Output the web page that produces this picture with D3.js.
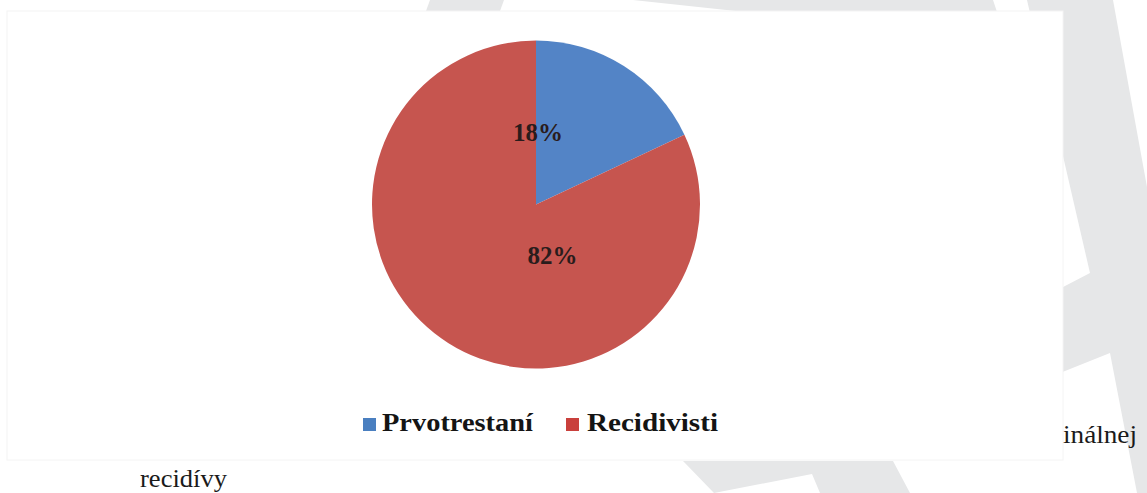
<!DOCTYPE html>
<html>
<head>
<meta charset="utf-8">
<script src="https://cdn.jsdelivr.net/npm/d3@7/dist/d3.min.js"></script>
<style>
  html, body { margin: 0; padding: 0; background: #ffffff; }
  svg { display: block; }
  text { font-family: "Liberation Serif", "Times New Roman", "DejaVu Serif", "Noto Serif", serif; }
</style>
</head>
<body>
<svg id="chart" width="1147" height="493"></svg>
<script>
// ---- data ----
const categories = ["Prvotrestaní", "Recidivisti"];
const values = [18, 82];
const valueLabels = ["18%", "82%"];
const captionWords = ["inálnej", "recidívy"];

// ---- layout / style ----
const W = 1147, H = 493;
const cx = 536, cy = 204.5, R = 164;
const sliceTop = ["#5384c6", "#c65450"];
const sliceBottom = ["#3d6cab", "#b12f2c"];
const swatch = ["#4a7fc0", "#c9403c"];
const labelOffsets = [[2, -69], [16.5, 54]];
const serif = '"Liberation Serif", "Times New Roman", "DejaVu Serif", serif';

const svg = d3.select("#chart");
const defs = svg.append("defs");

// background watermark shapes
const gray = "#e6e7e8";
const bgShapes = [
  [[430,0],[504,0],[500,11],[426,11]],
  [[633,0],[993,0],[997,12],[745,12]],
  [[1027,0],[1113,0],[1147,187],[1147,493],[1137,493],[1110,353],[1040,381],[1040,299],[1090,273]],
  [[683,461],[893,461],[910,493],[820,493],[812,474],[714,493]]
];
svg.append("rect").attr("width", W).attr("height", H).attr("fill", "#ffffff");
svg.selectAll("polygon.bg").data(bgShapes).join("polygon")
  .attr("class", "bg")
  .attr("points", d => d.map(p => p.join(",")).join(" "))
  .attr("fill", gray);

// chart image area
svg.append("rect")
  .attr("x", 7).attr("y", 11).attr("width", 1056).attr("height", 449)
  .attr("fill", "#ffffff").attr("stroke", "#f4f4f4").attr("stroke-width", 1);

// gradients
categories.forEach((c, i) => {
  const gr = defs.append("linearGradient")
    .attr("id", "grad" + i)
    .attr("gradientUnits", "userSpaceOnUse")
    .attr("x1", cx - R * 0.4).attr("y1", cy - R)
    .attr("x2", cx + R * 0.2).attr("y2", cy + R);
  gr.append("stop").attr("offset", "0%").attr("stop-color", sliceTop[i]);
  gr.append("stop").attr("offset", "100%").attr("stop-color", sliceBottom[i]);
});
const blur = defs.append("filter").attr("id", "soft");
blur.append("feGaussianBlur").attr("stdDeviation", 0.6);

const pie = d3.pie().sort(null).value(d => d)(values);
const arc = d3.arc().innerRadius(0).outerRadius(R);

const g = svg.append("g").attr("transform", `translate(${cx},${cy})`);
g.selectAll("path.slice").data(pie).join("path")
  .attr("class", "slice")
  .attr("d", arc)
  .attr("fill", (d, i) => `url(#grad${i})`)
  .attr("filter", "url(#soft)");

g.selectAll("text.val").data(pie).join("text")
  .attr("class", "val")
  .attr("x", (d, i) => labelOffsets[i][0])
  .attr("y", (d, i) => labelOffsets[i][1])
  .attr("text-anchor", "middle")
  .attr("dominant-baseline", "middle")
  .style("font-family", serif)
  .style("font-weight", "bold")
  .style("font-size", "25px")
  .attr("fill", "#2a1c1c")
  .text((d, i) => valueLabels[i]);

// legend
const legendItems = [
  { sx: 363, tx: 382, w: 151 },
  { sx: 566, tx: 587, w: 131 }
];
const lg = svg.append("g");
lg.selectAll("rect.sw").data(categories).join("rect")
  .attr("class", "sw")
  .attr("x", (d, i) => legendItems[i].sx)
  .attr("y", 418).attr("width", 13).attr("height", 13)
  .attr("fill", (d, i) => swatch[i]);
lg.selectAll("text.lt").data(categories).join("text")
  .attr("class", "lt")
  .attr("x", (d, i) => legendItems[i].tx)
  .attr("y", 431)
  .style("font-family", serif)
  .style("font-weight", "bold")
  .style("font-size", "25px")
  .attr("fill", "#141414")
  .attr("textLength", (d, i) => legendItems[i].w)
  .attr("lengthAdjust", "spacingAndGlyphs")
  .text(d => d);

// surrounding document text
const cap = [
  { x: 1063, y: 443, w: 74 },
  { x: 140, y: 487, w: 87 }
];
svg.selectAll("text.cap").data(captionWords).join("text")
  .attr("class", "cap")
  .attr("x", (d, i) => cap[i].x)
  .attr("y", (d, i) => cap[i].y)
  .style("font-family", serif)
  .style("font-size", "25px")
  .attr("fill", "#1a1a1a")
  .attr("textLength", (d, i) => cap[i].w)
  .attr("lengthAdjust", "spacingAndGlyphs")
  .text(d => d);
</script>
</body>
</html>
